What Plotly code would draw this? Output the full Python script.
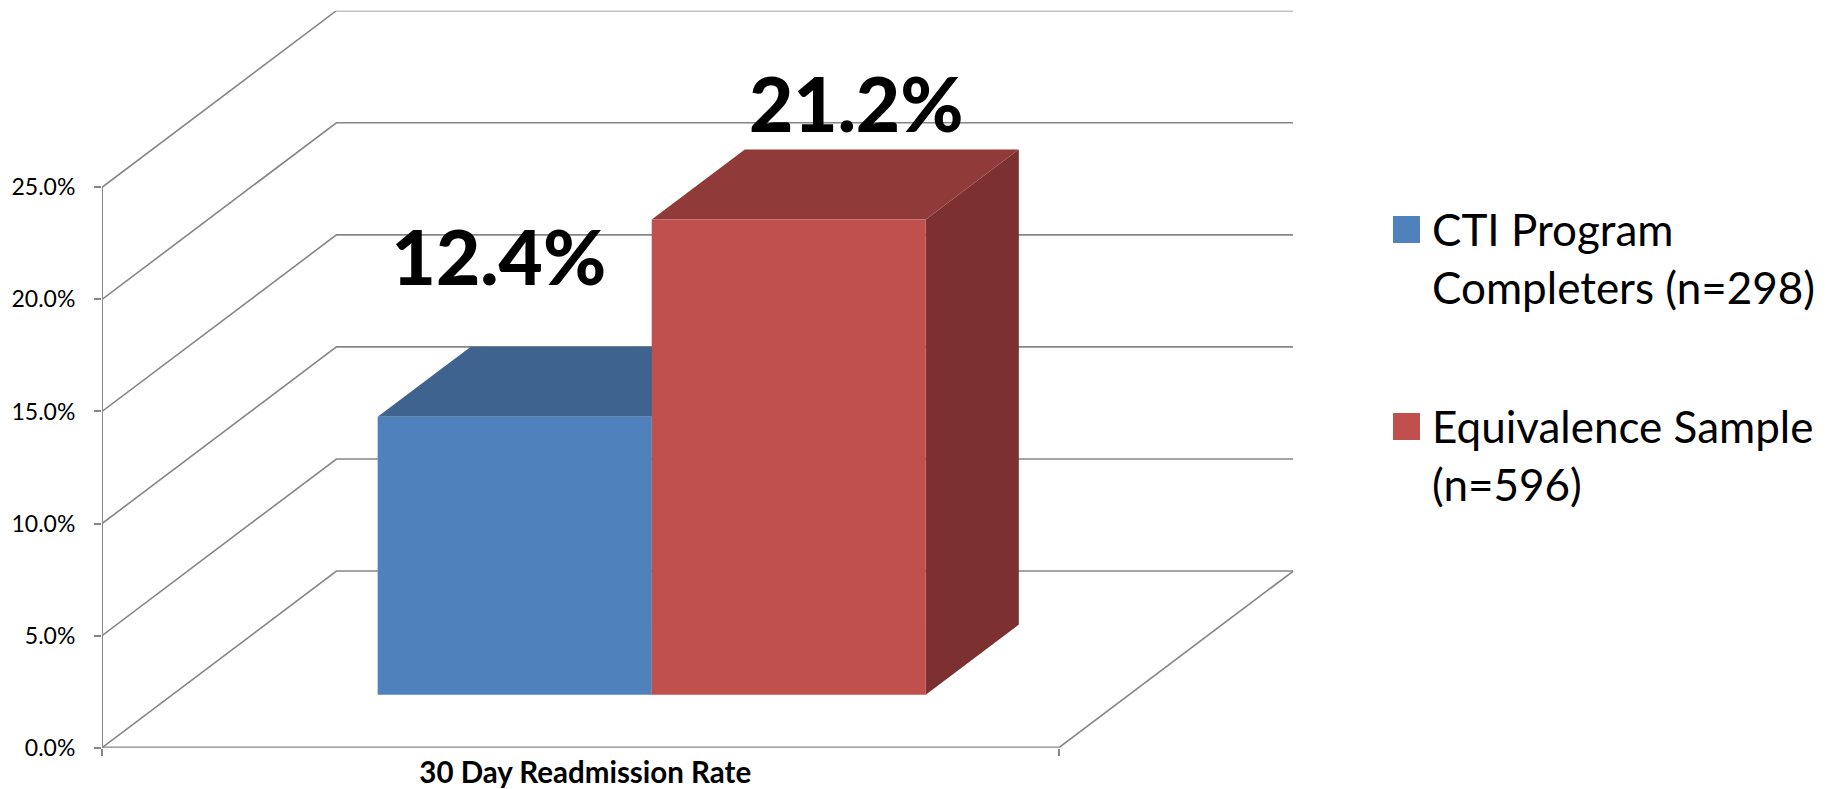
import plotly.graph_objects as go

# ---- data ----
category = "30 Day Readmission Rate"
series_names = ["CTI Program Completers (n=298)", "Equivalence Sample (n=596)"]
series_values = [12.4, 21.2]
value_labels = ["12.4%", "21.2%"]
y_ticks = [0, 5, 10, 15, 20, 25]
y_tick_labels = ["0.0%", "5.0%", "10.0%", "15.0%", "20.0%", "25.0%"]
legend_lines = [["CTI Program", "Completers (n=298)"], ["Equivalence Sample", "(n=596)"]]

# ---- style and projection ----
W, H = 1834, 789
FONT = "Lato"
GRID = "#868686"
front_colors = ["#4F81BD", "#C0504D"]
top_colors = ["#3F638F", "#913A3A"]
side_colors = ["#3A5A82", "#7D3030"]
DX, DY = 0.2450, 7.88          # oblique offset of full chart depth (category widths, %)
BAR_D0, BAR_D1 = 0.30, 0.697   # depth span of the bars
GAP_LEFT, BAR_W = 0.2146, 0.2864
LABEL_OFFSETS = [(-0.0165, 6.75), (0.0705, 4.76)]


def proj(x, y, d):
    return x + d * DX, y + d * DY


def poly(points, color, name):
    xs, ys = zip(*(proj(*p) for p in points + points[:1]))
    return go.Scatter(x=list(xs), y=list(ys), mode="lines", fill="toself", fillcolor=color,
                      line=dict(width=0, color=color), name=name, hoverinfo="name",
                      showlegend=False, cliponaxis=False)


def line(points, width=1.6):
    xs, ys = zip(*(proj(*p) for p in points))
    return go.Scatter(x=list(xs), y=list(ys), mode="lines", line=dict(color=GRID, width=width),
                      hoverinfo="skip", showlegend=False, cliponaxis=False)


fig = go.Figure()

# walls and floor
for v in y_ticks:
    fig.add_trace(line([(0, v, 0), (0, v, 1), (1, v, 1)]))
fig.add_trace(line([(1, 0, 1), (1, 0, 0)]))
fig.add_trace(line([(0, 0, 0), (1, 0, 0)], 2.2))
fig.add_trace(line([(0, 0, 0), (0, y_ticks[-1], 0)], 2))

# bars
for i, (val, name) in enumerate(zip(series_values, series_names)):
    x0 = GAP_LEFT + i * BAR_W
    x1 = x0 + BAR_W
    fig.add_trace(poly([(x1, 0, BAR_D0), (x1, 0, BAR_D1), (x1, val, BAR_D1), (x1, val, BAR_D0)], side_colors[i], name))
    fig.add_trace(poly([(x0, val, BAR_D0), (x0, val, BAR_D1), (x1, val, BAR_D1), (x1, val, BAR_D0)], top_colors[i], name))
    fig.add_trace(poly([(x0, 0, BAR_D0), (x0, val, BAR_D0), (x1, val, BAR_D0), (x1, 0, BAR_D0)], front_colors[i], name))

# value labels (on the overlay axis that also carries the category label)
lx, ly = [], []
for i, val in enumerate(series_values):
    cx = GAP_LEFT + (i + 0.5) * BAR_W
    px, py = proj(cx, val, BAR_D0)
    lx.append(px + LABEL_OFFSETS[i][0])
    ly.append(py + LABEL_OFFSETS[i][1])
fig.add_trace(go.Scatter(x=lx, y=ly, xaxis="x2", mode="text", text=value_labels,
                         textposition="middle center", cliponaxis=False, hoverinfo="skip",
                         showlegend=False, textfont=dict(family=FONT, size=76.5, color="black", weight=900)))

x_dom = [102 / W, 1293.3 / W]
y_dom = [(H - 747.7) / H, (H - 10.7) / H]
x_rng = [0, 1 + DX]
fig.update_layout(
    width=W, height=H, margin=dict(l=0, r=0, t=0, b=0, pad=0, autoexpand=False), paper_bgcolor="white", plot_bgcolor="white",
    showlegend=False, autosize=False,
    xaxis=dict(domain=x_dom, range=x_rng, tickvals=[0, 1], ticktext=["", ""], ticks="outside", ticklen=7,
               tickcolor=GRID, tickwidth=1.6, showgrid=False, zeroline=False, showline=False, automargin=False),
    xaxis2=dict(domain=x_dom, range=x_rng, overlaying="x", anchor="y", side="bottom", tickvals=[0.505],
                ticktext=[category], ticks="", showgrid=False, zeroline=False, showline=False, ticklabelstandoff=5,
                automargin=False, tickfont=dict(family=FONT, size=29.5, color="black", weight=700)),
    yaxis=dict(domain=y_dom, range=[0, y_ticks[-1] + DY], tickvals=y_ticks, ticktext=y_tick_labels, ticks="outside",
               ticklen=7, tickcolor=GRID, tickwidth=1.6, showgrid=False, zeroline=False, showline=False, automargin=False,
               ticklabelstandoff=14, tickfont=dict(family=FONT, size=23, color="black")),
)

# custom legend: big square swatches and separately spaced lines
swatch_tops = [216, 413]
text_mid = [[229, 287], [426, 484]]
for i, lines in enumerate(legend_lines):
    fig.add_shape(type="rect", xref="paper", yref="paper", x0=1393 / W, x1=1420 / W,
                  y0=1 - (swatch_tops[i] + 27) / H, y1=1 - swatch_tops[i] / H,
                  fillcolor=front_colors[i], line=dict(width=0))
    for j, t in enumerate(lines):
        fig.add_annotation(text=t, xref="paper", yref="paper", x=1430 / W, y=1 - text_mid[i][j] / H,
                           xanchor="left", yanchor="middle", showarrow=False,
                           font=dict(family=FONT, size=44, color="black"))

fig.write_html("out.html", config=dict(displayModeBar=False),
               post_script="document.body.style.margin='0';document.body.style.overflow='hidden';")
